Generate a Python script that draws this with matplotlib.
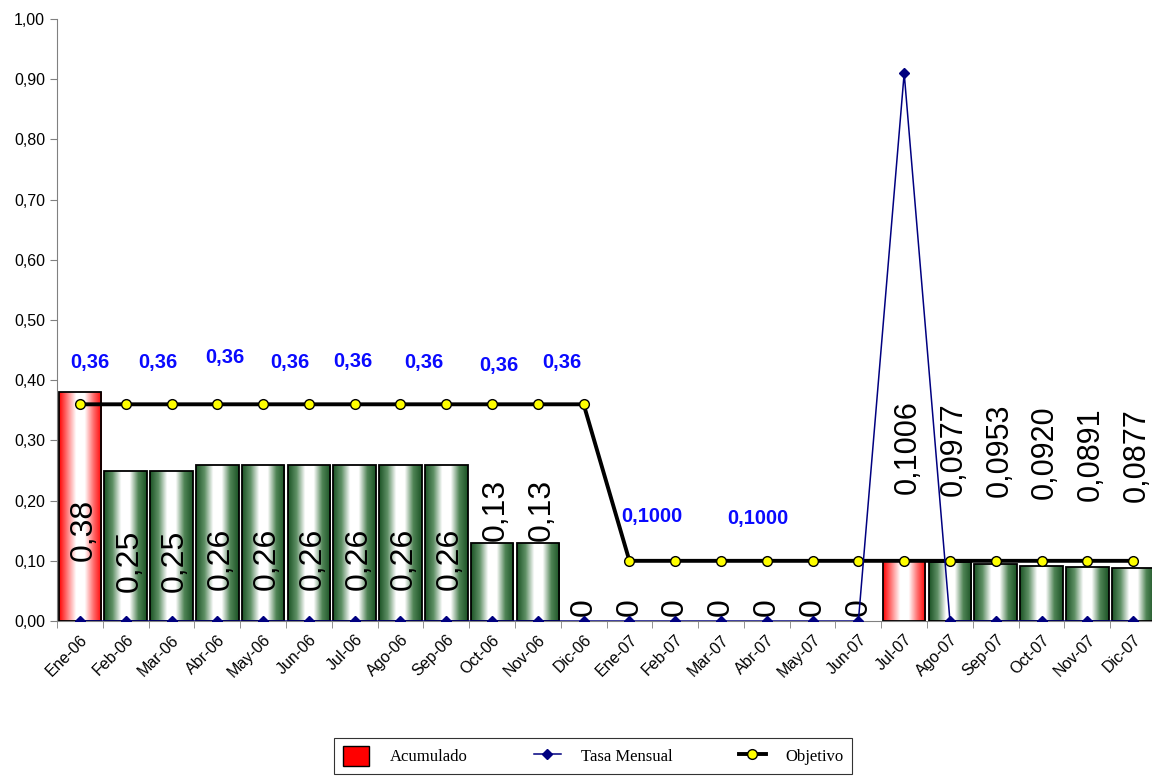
import numpy as np
import matplotlib.pyplot as plt
from matplotlib.colors import LinearSegmentedColormap
from matplotlib.patches import Rectangle
from matplotlib.lines import Line2D

meses = ['Ene-06', 'Feb-06', 'Mar-06', 'Abr-06', 'May-06', 'Jun-06', 'Jul-06', 'Ago-06',
         'Sep-06', 'Oct-06', 'Nov-06', 'Dic-06', 'Ene-07', 'Feb-07', 'Mar-07', 'Abr-07',
         'May-07', 'Jun-07', 'Jul-07', 'Ago-07', 'Sep-07', 'Oct-07', 'Nov-07', 'Dic-07']
acumulado = [0.38, 0.25, 0.25, 0.26, 0.26, 0.26, 0.26, 0.26, 0.26, 0.13, 0.13, 0,
             0, 0, 0, 0, 0, 0, 0.1006, 0.0977, 0.0953, 0.0920, 0.0891, 0.0877]
acum_txt = ['0,38', '0,25', '0,25', '0,26', '0,26', '0,26', '0,26', '0,26', '0,26', '0,13', '0,13', '0',
            '0', '0', '0', '0', '0', '0', '0,1006', '0,0977', '0,0953', '0,0920', '0,0891', '0,0877']
# first month of each year's accumulation is drawn red
inicio = ['Ene-06', 'Jul-07']
tasa = [0, 0, 0, 0, 0, 0, 0, 0, 0, 0, 0, 0,
        0, 0, 0, 0, 0, 0, 0.91, 0, 0, 0, 0, 0]
objetivo = [0.36, 0.36, 0.36, 0.36, 0.36, 0.36, 0.36, 0.36, 0.36, 0.36, 0.36, 0.36,
            0.10, 0.10, 0.10, 0.10, 0.10, 0.10, 0.10, 0.10, 0.10, 0.10, 0.10, 0.10]
# blue target labels (text, x, y) as they sit on the chart
obj_txt = ['0,36', '0,36', '0,36', '0,36', '0,36', '0,36', '0,36', '0,36', '0,1000', '0,1000']
obj_x = [0.22, 1.70, 3.17, 4.58, 5.96, 7.51, 9.14, 10.52, 12.48, 14.80]
obj_y = [0.429, 0.429, 0.437, 0.429, 0.431, 0.429, 0.424, 0.429, 0.173, 0.170]

fig = plt.figure(figsize=(11.52, 7.76), dpi=100)
ax = fig.add_axes([0.0495, 0.1997, 0.954, 0.7758])

green = LinearSegmentedColormap.from_list('g', ['#1a5224', '#5f9065', '#ffffff', '#ffffff', '#4f8455', '#1a5224'])
red = LinearSegmentedColormap.from_list('r', ['#ff0000', '#ff8080', '#ffffff', '#ffffff', '#ff7070', '#ff0000'])
grad = np.linspace(0, 1, 256).reshape(1, -1)

x = np.arange(len(meses))
w = 0.93
for i, v in enumerate(acumulado):
    if v <= 0:
        continue
    cmap = red if meses[i] in inicio else green
    rect = Rectangle((i - w / 2, 0), w, v, facecolor='none', edgecolor='black', lw=1.3, zorder=3)
    ax.add_patch(rect)
    im = ax.imshow(grad, cmap=cmap, aspect='auto', extent=[i - w / 2, i + w / 2, 0, v], zorder=2)
    im.set_clip_path(rect)

# bar value labels
for i, v in enumerate(acumulado):
    if v >= 0.2:
        ax.text(i + 0.08, v * 0.4, acum_txt[i], rotation=90, ha='center', va='center',
                fontsize=23, family='Liberation Sans', zorder=4)
    elif v >= 0.12:
        ax.text(i + 0.08, v + 0.003, acum_txt[i], rotation=90, ha='center', va='bottom',
                fontsize=23, family='Liberation Sans', zorder=4)
    elif v > 0:
        ax.text(i + 0.08, v + 0.11, acum_txt[i], rotation=90, ha='center', va='bottom',
                fontsize=22, family='Liberation Sans', zorder=4)
    else:
        ax.text(i, 0.008, acum_txt[i], rotation=90, ha='center', va='bottom',
                fontsize=23, family='Liberation Sans', zorder=4)

ax.plot(x, objetivo, color='black', lw=2.8, marker='o', ms=7, mfc='#ffff00', mec='black', mew=1, zorder=5)
ax.plot(x, tasa, color='#000080', lw=1.1, marker='D', ms=5.5, mfc='#000080', mec='#000080', zorder=6)

for t, px, py in zip(obj_txt, obj_x, obj_y):
    ax.text(px, py, t, ha='center', va='center', color='#0a0aff', fontsize=14.5,
            fontweight='bold', family='Liberation Sans', zorder=7)

ax.set_xlim(-0.5, len(meses) - 0.5)
ax.set_ylim(0, 1.0)
ax.set_yticks(np.arange(0, 1.01, 0.1))
ax.set_yticklabels([('%.2f' % t).replace('.', ',') for t in np.arange(0, 1.01, 0.1)],
                   fontsize=11.5, family='Liberation Sans')
ax.set_xticks(x)
ax.set_xticklabels(meses, rotation=45, ha='right', rotation_mode='anchor',
                   fontsize=11.5, family='Liberation Sans')
ax.tick_params(axis='x', which='major', length=0, pad=8)
ax.set_xticks(np.arange(-0.5, len(meses), 1), minor=True)
ax.tick_params(axis='x', which='minor', length=5, color='#808080', direction='out')
ax.tick_params(axis='y', length=5, color='#808080', direction='out')
for s in ['top', 'right']:
    ax.spines[s].set_visible(False)
ax.spines['left'].set_color('#808080')
ax.spines['bottom'].set_color('#808080')

handles = [Rectangle((0, 0), 1, 1, facecolor='#ff0000', edgecolor='black'),
           Line2D([], [], color='#000080', lw=1.1, marker='D', ms=5.5, mfc='#000080'),
           Line2D([], [], color='black', lw=2.8, marker='o', ms=7, mfc='#ffff00', mec='black')]
leg = fig.legend(handles, ['Acumulado', 'Tasa Mensual', 'Objetivo'], loc='lower center',
                 bbox_to_anchor=(0.515, -0.008), ncol=3, frameon=True, fancybox=False,
                 edgecolor='black', prop={'family': 'Liberation Serif', 'size': 12},
                 handlelength=1.6, handleheight=1.4, handletextpad=1.2,
                 columnspacing=4.0, borderpad=0.5)
leg.get_frame().set_linewidth(0.8)

fig.savefig('out.png', dpi=100)
